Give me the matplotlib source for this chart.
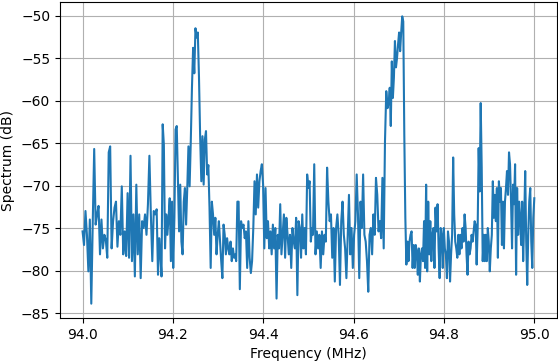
import numpy as np
import matplotlib
matplotlib.use('Agg')
import matplotlib.pyplot as plt

# spectrum readings in dB, one list per stretch of the band (start/stop in MHz)
span1_mhz = (94.000, 94.164)
span1_db = [-75.4, -77.0, -73.0, -75.8, -80.1, -74.0, -83.9, -74.4, -65.7, -74.6,
            -73.4, -72.4, -78.1, -74.0, -77.4, -75.8, -76.4, -78.5, -66.1, -65.4,
            -77.4, -74.2, -72.6, -71.9, -77.2, -74.2, -75.8, -70.1, -78.1, -75.4,
            -78.3, -70.9, -78.5, -66.5, -78.9, -73.4, -80.7, -69.9, -78.1, -73.4,
            -80.9, -74.2, -75.0, -73.4, -75.8, -72.2, -66.5, -73.4, -78.9, -73.0,
            -73.4, -72.8]

span2_mhz = (94.167, 94.338)
span2_db = [-80.5, -76.2, -78.1, -80.7, -62.8, -65.2, -77.4, -73.4, -75.8, -73.8,
            -71.5, -78.9, -71.9, -79.7, -73.8, -63.4, -63.0, -69.5, -75.4, -69.9,
            -76.6, -78.1, -71.9, -70.3, -74.6, -70.3, -65.4, -70.1, -64.8, -58.5,
            -53.8, -56.8, -51.5, -52.6, -52.0, -57.2, -64.2, -69.5, -64.2, -69.9,
            -64.6, -63.6, -68.7, -67.6, -72.6, -79.7, -71.9, -73.4, -75.8, -73.8,
            -78.1, -75.8, -74.2, -76.6, -78.9, -80.9, -74.6, -75.8, -78.1, -76.2,
            -77.4, -78.1, -76.6, -78.9, -77.4, -78.5, -78.1]

span3_mhz = (94.340, 94.508)
span3_db = [-78.9, -71.9, -71.9, -82.2, -74.2, -75.0, -74.6, -76.2, -75.4, -79.7,
            -74.2, -78.5, -80.3, -78.9, -75.0, -69.5, -73.4, -68.7, -72.6, -69.5,
            -68.3, -67.5, -69.9, -77.4, -70.3, -76.2, -74.2, -77.4, -75.4, -78.1,
            -74.6, -77.4, -75.0, -83.3, -75.8, -77.4, -72.2, -78.1, -75.8, -73.4,
            -78.5, -73.8, -75.8, -78.1, -75.8, -79.7, -75.0, -76.6, -77.4, -73.8,
            -82.9, -74.2, -75.0, -78.5, -73.4, -77.4, -75.0, -78.1, -68.7, -70.3,
            -69.5, -76.6, -75.0]

span4_mhz = (94.510, 94.678)
span4_db = [-75.8, -67.5, -78.1, -75.4, -77.4, -75.8, -79.7, -75.4, -78.1, -75.8,
            -76.6, -67.9, -71.9, -74.2, -73.4, -78.5, -75.0, -81.3, -75.0, -73.4,
            -75.8, -81.7, -74.2, -71.9, -75.8, -77.4, -80.9, -75.8, -71.1, -78.1,
            -75.0, -79.7, -75.8, -74.2, -68.7, -73.4, -80.9, -71.9, -75.0, -68.7,
            -75.8, -76.6, -78.9, -82.5, -75.8, -75.0, -78.1, -73.4, -75.8, -69.1,
            -71.1, -75.4, -74.2, -76.2, -69.1, -77.4, -64.8, -58.9, -60.9, -60.1]

span5_mhz = (94.680, 94.848)
span5_db = [-58.5, -63.0, -55.4, -59.7, -57.3, -53.0, -56.1, -55.0, -53.4, -52.0,
            -54.2, -52.0, -50.1, -50.7, -64.0, -73.8, -79.3, -76.6, -78.9, -76.6,
            -75.8, -75.4, -79.7, -77.0, -79.7, -77.0, -77.8, -80.5, -77.4, -81.3,
            -78.1, -77.4, -78.9, -74.2, -79.7, -69.9, -80.1, -71.9, -78.1, -74.2,
            -78.9, -75.8, -75.0, -79.7, -72.6, -75.4, -72.2, -77.4, -80.9, -75.0,
            -75.8, -79.7, -75.0, -77.4, -78.1, -80.9, -75.4, -76.6, -81.3, -78.1,
            -75.8, -66.7, -73.4, -76.6, -77.4, -78.5, -75.8, -78.1, -75.8, -77.4,
            -75.0, -76.6, -73.4, -75.0]

span6_mhz = (94.850, 95.000)
span6_db = [-78.1, -80.5, -76.6, -78.1, -77.4, -75.8, -76.6, -75.4, -74.2, -74.6,
            -79.3, -75.0, -65.6, -70.7, -60.3, -67.9, -78.9, -75.8, -78.9, -75.8,
            -78.9, -75.0, -76.6, -80.1, -77.4, -75.8, -69.5, -73.8, -71.1, -74.2,
            -70.3, -78.5, -69.5, -71.9, -70.3, -77.0, -71.9, -77.4, -71.9, -70.3,
            -68.3, -71.1, -66.1, -67.5, -71.9, -77.4, -69.9, -72.2, -67.5, -80.5,
            -70.3, -75.8, -71.9, -73.8, -77.0, -71.9, -78.9, -74.2, -68.3, -76.6,
            -81.7, -75.8, -71.9, -70.3, -76.6, -79.7, -73.8, -71.5]

spans = [(span1_mhz, span1_db), (span2_mhz, span2_db), (span3_mhz, span3_db),
         (span4_mhz, span4_db), (span5_mhz, span5_db), (span6_mhz, span6_db)]

freq = np.concatenate([np.linspace(lo, hi, len(db)) for (lo, hi), db in spans])
level = np.concatenate([np.array(db) for _, db in spans])

fig = plt.figure(figsize=(5.58, 3.62), dpi=100)
ax = fig.add_axes([0.1075, 0.1215, 0.8905, 0.873])
ax.plot(freq, level)
ax.set_xlabel('Frequency (MHz)')
ax.set_ylabel('Spectrum (dB)')
ax.grid(True)
fig.savefig('out.png', dpi=100)
